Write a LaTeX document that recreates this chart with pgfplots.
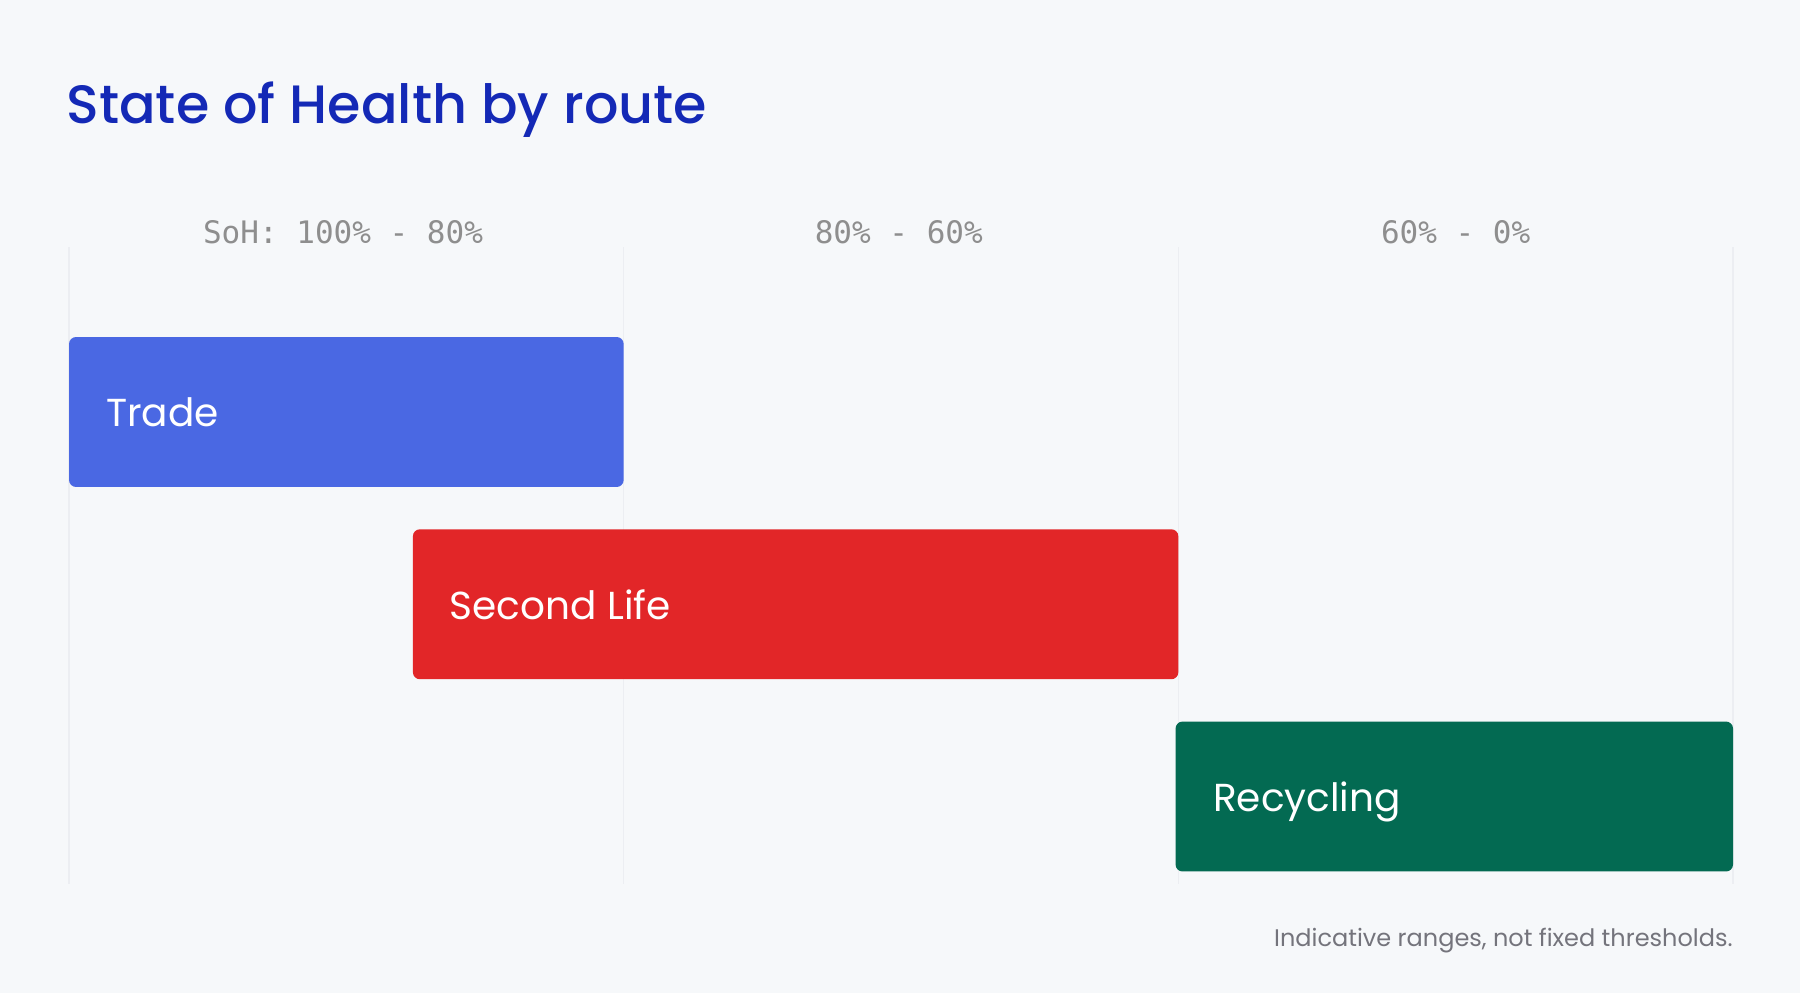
\documentclass[border=0pt]{standalone}
\usepackage{pgfplots}
\pgfplotsset{compat=1.18}
\usepackage{fontspec}
\setmainfont{Poppins}
\newfontfamily\titlefont{Poppins Medium}
\newfontfamily\monofont{DejaVu Sans Mono}
\definecolor{bg}{HTML}{F6F8FA}
\definecolor{titleblue}{HTML}{1429B6}
\definecolor{tradeblue}{HTML}{4A68E3}
\definecolor{secondred}{HTML}{E22628}
\definecolor{recgreen}{HTML}{036A52}
\definecolor{gridc}{HTML}{ECEEF2}
\definecolor{headgrey}{HTML}{8E8E8E}
\definecolor{footgrey}{HTML}{74747C}
\begin{document}
\begin{tikzpicture}
\begin{axis}[
  width=900pt, height=496.5pt, scale only axis,
  xmin=-0.1244, xmax=3.1208, ymin=-1.022, ymax=4.143,
  axis lines=none, ticks=none, clip=false,
  axis background/.style={fill=bg},
]
% column separators
\foreach \c in {0,1,2,3}{
  \edef\tmp{\noexpand\draw[gridc, line width=0.6pt] (axis cs:\c,-0.455) -- (axis cs:\c,2.858);}
  \tmp
}
% bars (start, end, row)
\addplot[fill=tradeblue, draw=none, rounded corners=3.5pt] coordinates {(0,1.61) (1,1.61) (1,2.39) (0,2.39)} -- cycle;
\addplot[fill=secondred, draw=none, rounded corners=3.5pt] coordinates {(0.62,0.61) (2,0.61) (2,1.39) (0.62,1.39)} -- cycle;
\addplot[fill=recgreen, draw=none, rounded corners=3.5pt] coordinates {(1.995,-0.39) (3,-0.39) (3,0.39) (1.995,0.39)} -- cycle;
% bar labels
\node[anchor=base west, text=white, font=\fontsize{19.5}{24}\selectfont, inner sep=0pt] at (axis cs:0.066,1.922) {Trade};
\node[anchor=base west, text=white, font=\fontsize{19.5}{24}\selectfont, inner sep=0pt] at (axis cs:0.686,0.922) {Second Life};
\node[anchor=base west, text=white, font=\fontsize{19.5}{24}\selectfont, inner sep=0pt] at (axis cs:2.062,-0.078) {Recycling};
% headers
\node[text=headgrey, font=\monofont\fontsize{15.5}{18}\selectfont, inner sep=0pt] at (axis cs:0.494,2.936) {SoH: 100\% - 80\%};
\node[text=headgrey, font=\monofont\fontsize{15.5}{18}\selectfont, inner sep=0pt] at (axis cs:1.496,2.936) {80\% - 60\%};
\node[text=headgrey, font=\monofont\fontsize{15.5}{18}\selectfont, inner sep=0pt] at (axis cs:2.5,2.936) {60\% - 0\%};
% title
\node[anchor=base west, text=titleblue, font=\titlefont\fontsize{27}{32}\selectfont, inner sep=0pt] at (axis cs:-0.005,3.498) {State of Health by route};
% footnote
\node[anchor=base east, text=footgrey, font=\fontsize{12}{14}\selectfont, inner sep=0pt] at (axis cs:3.0,-0.778) {Indicative ranges, not fixed thresholds.};
\end{axis}
\end{tikzpicture}
\end{document}
